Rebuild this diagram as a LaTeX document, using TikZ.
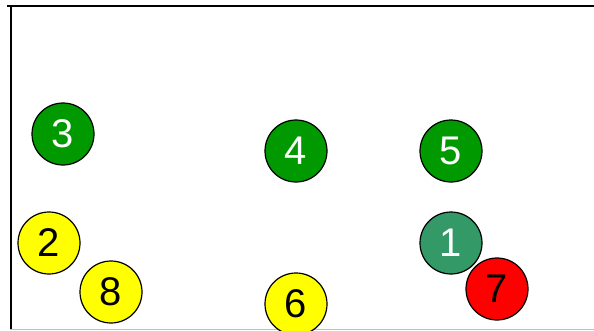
\documentclass[tikz,border=0pt]{standalone}
\usepackage{fontspec}
\setmainfont{Liberation Sans}
\usepackage{tikz}
\definecolor{dotgreen}{HTML}{009900}
\definecolor{dotsea}{HTML}{339966}
\definecolor{dotyellow}{HTML}{FFFF00}
\definecolor{dotred}{HTML}{FF0000}

\begin{document}
\begin{tikzpicture}[x=1pt, y=1pt,
  dot/.style={circle, draw=black, line width=1.2pt, minimum size=62pt, inner sep=0pt, font=\fontsize{40}{40}\selectfont},
  green/.style={dot, fill=dotgreen, text=white},
  sea/.style={dot, fill=dotsea, text=white},
  yel/.style={dot, fill=dotyellow, text=black},
  hot/.style={dot, fill=dotred, text=black},
  frame/.style={line width=2pt}
]
\useasboundingbox (0,0) rectangle (594,330);
\draw[frame] (7,324) -- (594,324);
\draw[frame] (11,324) -- (11,0);
\draw[black!25, line width=1pt] (10,1) -- (594,1);
\node[sea] (n1) at (451,87) {1};
\node[yel] (n2) at (49,87) {2};
\node[green] (n3) at (63,196) {3};
\node[green] (n4) at (296,179) {4};
\node[green] (n5) at (451,179) {5};
\node[yel] (n6) at (296,26) {6};
\node[hot] (n7) at (497,41) {7};
\node[yel] (n8) at (111,38) {8};
\end{tikzpicture}
\end{document}
